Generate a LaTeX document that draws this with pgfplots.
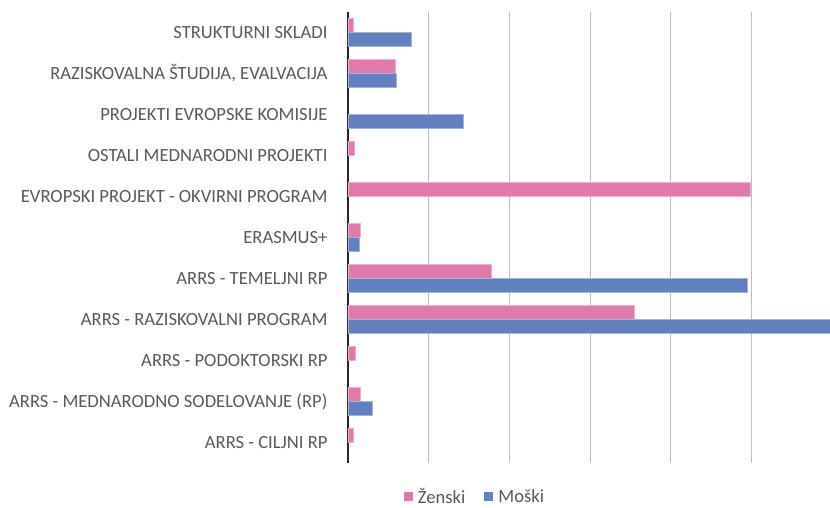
\documentclass[border=0pt]{standalone}
\usepackage{pgfplots}
\pgfplotsset{compat=1.18}
\usepackage{fontspec}
\setmainfont{Carlito}
\definecolor{zpink}{RGB}{224,122,172}
\definecolor{mblue}{RGB}{98,128,192}
\definecolor{lbl}{RGB}{89,89,89}
\definecolor{gridc}{RGB}{190,190,190}
\begin{document}
\begin{tikzpicture}
\useasboundingbox (-348bp,-45bp) rectangle (482bp,463bp);
\begin{axis}[
 scale only axis, width=482bp, height=451bp,
 xmin=0, xmax=59.7, ymin=-0.5, ymax=10.5, y dir=reverse,
 xbar, bar width=14bp,
 axis line style={draw=none},
 xtick={10,20,30,40,50}, xticklabels={}, xmajorgrids,
 grid style={gridc, line width=1bp},
 extra x ticks={0}, extra x tick labels={},
 extra x tick style={grid style={black!85, line width=1.6bp}},
 ytick={0,...,10},
 yticklabels={STRUKTURNI SKLADI, {RAZISKOVALNA ŠTUDIJA, EVALVACIJA}, PROJEKTI EVROPSKE KOMISIJE, OSTALI MEDNARODNI PROJEKTI, EVROPSKI PROJEKT - OKVIRNI PROGRAM, ERASMUS+, ARRS - TEMELJNI RP, ARRS - RAZISKOVALNI PROGRAM, ARRS - PODOKTORSKI RP, ARRS - MEDNARODNO SODELOVANJE (RP), ARRS - CILJNI RP},
 major tick length=0,
 yticklabel style={font=\fontsize{18.6bp}{22bp}\selectfont, text=lbl, anchor=east, xshift=-17bp},
 legend style={at={(0.2635,-0.0754)}, anchor=center, legend columns=2, draw=none,
   font=\fontsize{18.6bp}{22bp}\selectfont, text=lbl,
   /tikz/every even column/.append style={column sep=17bp}},
]
\addplot[fill=zpink, draw=zpink!60!white, line width=0.6bp, bar shift=7bp,
  legend image code/.code={\fill[zpink, draw=none] (0bp,-3.5bp) rectangle (9bp,5.5bp); \path[draw=none, fill=none] (0bp,0bp) rectangle (12bp,0.1bp);}]
 coordinates {(0.6,0) (5.8,1) (0.75,3) (49.8,4) (1.5,5) (17.7,6) (35.4,7) (0.87,8) (1.5,9) (0.6,10)};
\addlegendentry{Ženski}
\addplot[fill=mblue, draw=mblue!60!white, line width=0.6bp, bar shift=-7bp,
  legend image code/.code={\fill[mblue, draw=none] (0bp,-3.5bp) rectangle (9bp,5.5bp); \path[draw=none, fill=none] (0bp,0bp) rectangle (12bp,0.1bp);}]
 coordinates {(7.85,0) (6.0,1) (14.3,2) (1.35,5) (49.5,6) (60,7) (3.05,9)};
\addlegendentry{Moški}
\end{axis}
\end{tikzpicture}
\end{document}
